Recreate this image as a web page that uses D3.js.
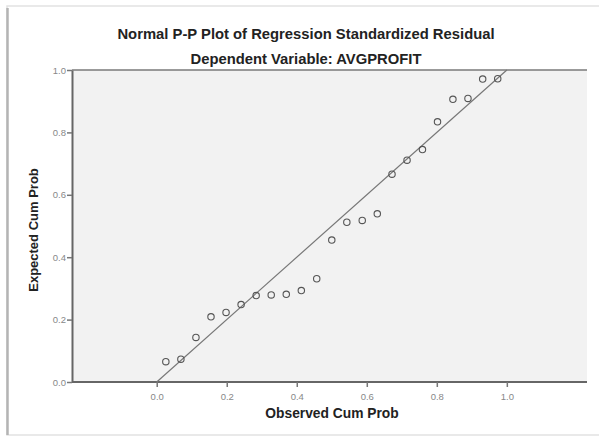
<!DOCTYPE html>
<html>
<head>
<meta charset="utf-8">
<script src="https://cdn.jsdelivr.net/npm/d3@7"></script>
<style>
    body { margin: 0; background: #fff; }
    svg { display: block; font-family: "Liberation Sans", Arial, sans-serif; }
</style>
</head>
<body>
<svg id="chart"></svg>
<script>
// observed / expected cumulative probabilities
const observed = [0.026, 0.069, 0.112, 0.155, 0.198, 0.241, 0.284, 0.327, 0.370, 0.413, 0.457, 0.500,
    0.543, 0.587, 0.630, 0.672, 0.715, 0.759, 0.802, 0.846, 0.889, 0.931, 0.974];
const expected = [0.065, 0.073, 0.143, 0.209, 0.223, 0.248, 0.277, 0.279, 0.281, 0.293, 0.331, 0.455,
    0.512, 0.518, 0.539, 0.666, 0.711, 0.745, 0.834, 0.906, 0.909, 0.971, 0.972];
const xTicks = [0.0, 0.2, 0.4, 0.6, 0.8, 1.0];
const yTicks = [0.0, 0.2, 0.4, 0.6, 0.8, 1.0];
const refLine = [[0, 0], [1, 1]];

const width = 599;
const height = 436;
const plot = { left: 72, right: 587, top: 70, bottom: 382 };

const svg = d3.select('#chart')
    .attr('width', width)
    .attr('height', height);

// panel frame (light box with shadowed left edge)
svg.append('rect')
    .attr('x', 7).attr('y', 6)
    .attr('width', width).attr('height', 429)
    .attr('fill', '#fff')
    .attr('stroke', '#e2e2e2')
    .attr('stroke-width', 1.5);
svg.append('line')
    .attr('x1', 7.5).attr('x2', 7.5)
    .attr('y1', 8).attr('y2', 435)
    .attr('stroke', '#b4b4b4')
    .attr('stroke-width', 2.5);

const x = d3.scaleLinear()
    .domain([-0.242, 1.229])
    .range([plot.left, plot.right]);

const y = d3.scaleLinear()
    .domain([0, 1])
    .range([plot.bottom, plot.top]);

svg.append('rect')
    .attr('x', plot.left)
    .attr('y', plot.top)
    .attr('width', plot.right - plot.left)
    .attr('height', plot.bottom - plot.top)
    .attr('fill', '#f2f2f2');

// top border of plot area
svg.append('line')
    .attr('x1', plot.left).attr('x2', plot.right)
    .attr('y1', plot.top).attr('y2', plot.top)
    .attr('stroke', '#7a7a7a')
    .attr('stroke-width', 1.5);

const xAxis = svg.append('g')
    .attr('transform', `translate(0,${plot.bottom})`)
    .call(d3.axisBottom(x).tickValues(xTicks).tickFormat(d3.format('.1f')).tickSize(5).tickSizeOuter(0));

const yAxis = svg.append('g')
    .attr('transform', `translate(${plot.left},0)`)
    .call(d3.axisLeft(y).tickValues(yTicks).tickFormat(d3.format('.1f')).tickSize(5).tickSizeOuter(0));

[xAxis, yAxis].forEach(g => {
    g.select('.domain').attr('stroke', '#666').attr('stroke-width', 2);
    g.selectAll('.tick line').attr('stroke', '#777').attr('stroke-width', 1.5);
    g.selectAll('.tick text')
        .attr('fill', '#888')
        .style('font-size', '9.5px')
        .style('font-family', '"Liberation Sans", Arial, sans-serif');
});
xAxis.selectAll('.tick text').attr('dy', '1.05em');
yAxis.selectAll('.tick text').attr('x', -6);

// x domain line should span the full plot width
xAxis.select('.domain').attr('d', `M${plot.left},0H${plot.right}`);

// reference diagonal
svg.append('path')
    .datum(refLine)
    .attr('fill', 'none')
    .attr('stroke', '#777')
    .attr('stroke-width', 1.2)
    .attr('d', d3.line().x(d => x(d[0])).y(d => y(d[1])));

svg.append('g')
    .selectAll('circle')
    .data(observed)
    .join('circle')
    .attr('cx', d => x(d))
    .attr('cy', (d, i) => y(expected[i]))
    .attr('r', 3.2)
    .attr('fill', 'none')
    .attr('stroke', '#555')
    .attr('stroke-width', 1.1);

// titles
svg.append('text')
    .attr('x', 306).attr('y', 39)
    .attr('text-anchor', 'middle')
    .attr('font-weight', 'bold')
    .attr('font-size', 14.8)
    .attr('fill', '#222')
    .text('Normal P-P Plot of Regression Standardized Residual');

svg.append('text')
    .attr('x', 306).attr('y', 64)
    .attr('text-anchor', 'middle')
    .attr('font-weight', 'bold')
    .attr('font-size', 14.8)
    .attr('fill', '#222')
    .text('Dependent Variable: AVGPROFIT');

svg.append('text')
    .attr('x', 332).attr('y', 418)
    .attr('text-anchor', 'middle')
    .attr('font-weight', 'bold')
    .attr('font-size', 13.8)
    .attr('fill', '#222')
    .text('Observed Cum Prob');

svg.append('text')
    .attr('transform', `translate(38,${(plot.top + plot.bottom) / 2 + 4}) rotate(-90)`)
    .attr('text-anchor', 'middle')
    .attr('font-weight', 'bold')
    .attr('font-size', 13)
    .attr('fill', '#222')
    .text('Expected Cum Prob');
</script>
</body>
</html>
